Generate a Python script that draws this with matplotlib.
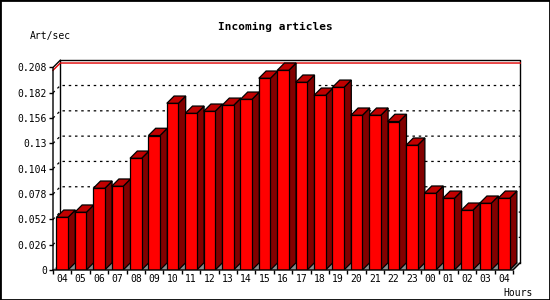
import numpy as np
import matplotlib
matplotlib.use("Agg")
import matplotlib.pyplot as plt
from matplotlib.patches import Polygon, Rectangle

hours = ["04", "05", "06", "07", "08", "09", "10", "11", "12", "13", "14", "15", "16",
         "17", "18", "19", "20", "21", "22", "23", "00", "01", "02", "03", "04"]
rate = [0.0541, 0.0593, 0.0839, 0.0860, 0.1147, 0.1381, 0.1712, 0.1609, 0.1630,
        0.1691, 0.1753, 0.1969, 0.2051, 0.1928, 0.1794, 0.1876, 0.1589, 0.1589,
        0.1525, 0.1281, 0.0788, 0.0736, 0.0613, 0.0685, 0.0736]
yticks = [0, 0.026, 0.052, 0.078, 0.104, 0.13, 0.156, 0.182, 0.208]
ytick_labels = ["0", "0.026", "0.052", "0.078", "0.104", "0.13", "0.156", "0.182", "0.208"]

# pixel layout of the front plane
W, H = 550, 300
x0, x1 = 53, 513
y0, y1 = 270, 67.5
depth = 7.3
ymax = yticks[-1]
n = len(hours)
dx = depth / ((x1 - x0) / n)
dy = depth * ymax / (y0 - y1)

plt.rcParams['font.family'] = ['DejaVu Sans Mono']
fig = plt.figure(figsize=(W / 100, H / 100), dpi=100)
ax = fig.add_axes([x0 / W, 1 - y0 / H, (x1 + depth - x0) / W, (y0 - y1 + depth) / H])
for s in ax.spines.values():
    s.set_visible(False)
ax.patch.set_alpha(0)

# floor
ax.add_patch(Polygon([(0, 0), (n, 0), (n + dx, dy), (dx, dy)], closed=True,
                     facecolor="#8c8c8c", edgecolor="none", zorder=1))
# back wall
ax.plot([dx, dx, n + dx, n + dx], [dy, ymax + dy, ymax + dy, dy], color="black", lw=1,
        zorder=1, clip_on=False)
# grid
for t in yticks[1:-1]:
    ax.plot([0, dx, n + dx], [t, t + dy, t + dy], color="black", lw=0.9,
            ls=(0, (2, 3)), zorder=1.5, clip_on=False)
# max line
vmax = max(rate)
ax.plot([0, dx, n + dx], [vmax, vmax + dy, vmax + dy], color="#e00000", lw=1, zorder=1.6, clip_on=False)

bw = 0.63
for i, v in enumerate(rate):
    l = i + 0.5 - bw / 2
    r = i + 0.5 + bw / 2
    ax.add_patch(Polygon([(r, 0), (r + dx, dy), (r + dx, v + dy), (r, v)], closed=True,
                         facecolor="#820000", edgecolor="black", lw=0.9, zorder=2 + i * 0.01))
    ax.add_patch(Polygon([(l, v), (r, v), (r + dx, v + dy), (l + dx, v + dy)], closed=True,
                         facecolor="#c00000", edgecolor="black", lw=0.9, zorder=2 + i * 0.01))
ax.bar(np.arange(n) + 0.5, rate, width=bw, color="#ff0000", edgecolor="black", lw=0.9, zorder=2.5)

# front axis lines
ax.plot([0, 0, dx], [0, ymax, ymax + dy], color="black", lw=1, zorder=3, clip_on=False)
ax.plot([0, n, n + dx], [0, 0, dy], color="black", lw=1, zorder=3, clip_on=False)

ax.set_yticks(yticks)
ax.set_yticklabels(ytick_labels)
ax.tick_params(axis="y", length=3, width=1, pad=1.5, labelsize=7)
ax.set_xticks(np.arange(n + 1))
ax.set_xticklabels([])
ax.set_xticks(np.arange(n) + 0.5, minor=True)
ax.set_xticklabels(hours, minor=True)
ax.tick_params(axis="x", which="major", length=3, width=1)
ax.tick_params(axis="x", which="minor", length=0, pad=3, labelsize=7)
ax.set_xlim(0, n + dx)
ax.set_ylim(0, ymax + dy)

fig.text(275 / W, 1 - 26.7 / H, "Incoming articles", ha="center", va="center",
         fontsize=8, fontweight="bold")
fig.text(30 / W, 1 - 36.5 / H, "Art/sec", ha="left", va="center", fontsize=7)
fig.text(533 / W, 1 - 292.7 / H, "Hours", ha="right", va="center", fontsize=7)
fig.add_artist(Rectangle((0, 0), 1, 1, transform=fig.transFigure, fill=False,
                         edgecolor="black", lw=2))

fig.savefig("out.png", dpi=100)
